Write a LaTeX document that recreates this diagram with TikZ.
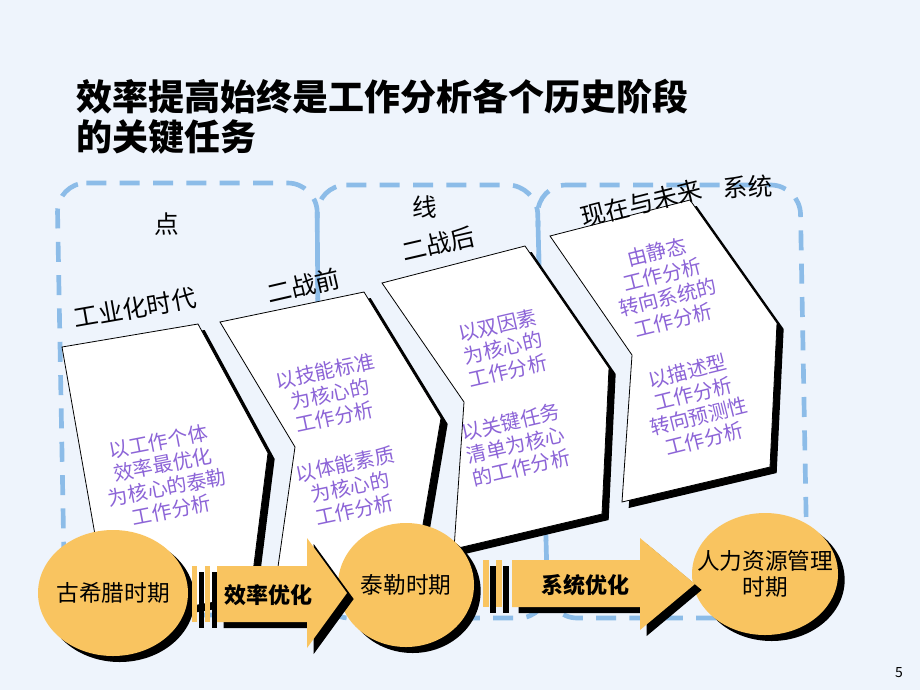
\documentclass[tikz,border=0pt]{standalone}
\usepackage{fontspec}
\setmainfont{Noto Sans CJK SC}
\usetikzlibrary{positioning}
\usetikzlibrary{shapes.geometric}
\usetikzlibrary{shadows}

\definecolor{pagebg}{RGB}{238,244,252}
\definecolor{zoneblue}{RGB}{140,188,232}
\definecolor{eraorange}{RGB}{249,196,96}
\definecolor{notepurple}{RGB}{140,100,215}

\begin{document}
\begin{tikzpicture}[ x                 = 0.75pt
                   , y                 = -0.75pt
                   , every node/.style = { inner sep = 0pt
                                         , align     = center
                                         }
                   ]

  %%
  %% Shape types
  %%
  \tikzset{ hardshadow/.style={drop shadow={shadow xshift=5pt, shadow yshift=-4.5pt, fill=black, opacity=1}}
          , stage/.style={draw=black, line width=0.6pt, fill=white, hardshadow}
          , era/.style={ellipse, fill=eraorange, hardshadow}
          , push/.style={fill=eraorange, hardshadow}
          , zone/.style={draw=zoneblue, line width=3.5pt, dash pattern=on 15pt off 10pt, rounded corners=22pt}
          }

  %%
  %% Text types
  %%
  \tikzset{ note/.style={text=notepurple, font=\fontsize{15}{17.5}\selectfont}
          , tag/.style={font=\fontsize{18.5}{22}\selectfont}
          , eraname/.style={font=\fontsize{17}{20}\selectfont}
          , pushname/.style={font=\fontsize{16.5}{20}\selectfont\bfseries}
          }

  \fill[pagebg] (0,0) rectangle (920,690);
  \useasboundingbox (0,0) rectangle (920,690);

  %%
  %% Dashed zones
  %%
  \draw[zone] (57,183) -- (317,183) -- (320,615) -- (65,615) -- cycle;
  \draw[zone] (317,185) -- (537,185) -- (548,618) -- (320,618) -- cycle;
  \draw[zone] (537,185) -- (800,185) -- (808,618) -- (548,618) -- cycle;

  %%
  %% Stages
  %%
  \draw[stage] (62,347) -- (198,324) -- (268,453) -- (250,596) -- (110,620) -- cycle;
  \draw[stage] (220,322) -- (364,292) -- (441,418) -- (417,560) -- (274,595) -- (295,447) -- cycle;
  \draw[stage] (382,283) -- (525,246) -- (609,368) -- (602,514) -- (454,549) -- (464,402) -- cycle;
  \draw[stage] (550,236) -- (690,200) -- (777,323) -- (770,467) -- (622,502) -- (632,355) -- cycle;

  %%
  %% Stage labels
  %%
  \node (dian) [tag]           at (167,224) {点};
  \node (gyh)  [tag, rotate=10] at (135,308) {工业化时代};
  \node (ezq)  [tag, rotate=13] at (303,286) {二战前};
  \node (xian) [tag]           at (425,207) {线};
  \node (ezh)  [tag, rotate=13] at (438,244) {二战后};
  \node (xzwl) [tag, rotate=14] at (641,203) {现在与未来};
  \node (xt)   [tag, rotate=3]  at (748,187) {系统};

  %%
  %% Stage notes
  %%
  \node (n1)  [note, rotate=11] at (165,476) {以工作个体\\效率最优化\\为核心的泰勒\\工作分析};
  \node (n2a) [note, rotate=12] at (330,394) {以技能标准\\为核心的\\工作分析};
  \node (n2b) [note, rotate=12] at (350,487) {以体能素质\\为核心的\\工作分析};
  \node (n3a) [note, rotate=13] at (503,348) {以双因素\\为核心的\\工作分析};
  \node (n3b) [note, rotate=13] at (516,445) {以关键任务\\清单为核心\\的工作分析};
  \node (n4a) [note, rotate=14] at (665,286) {由静态\\工作分析\\转向系统的\\工作分析};
  \node (n4b) [note, rotate=14] at (696,405) {以描述型\\工作分析\\转向预测性\\工作分析};

  %%
  %% Eras
  %%
  \node (gxl) [era, minimum width=112.5pt, minimum height=94.5pt] at (113,593) {};
  \node (tl)  [era, minimum width=102pt,   minimum height=93pt]   at (406,585) {};
  \node (hrm) [era, minimum width=109.5pt, minimum height=91.5pt] at (765,574) {};

  %%
  %% Block arrows between eras
  %%
  \fill[push] (192,566) rectangle (197,622);
  \fill[push] (205,566) rectangle (210,622);
  \fill[push] (217,566) -- (307,566) -- (307,538) -- (347,593)
              -- (307,648) -- (307,622) -- (217,622) -- cycle;

  \fill[push] (483,560) rectangle (489,607);
  \fill[push] (496,560) rectangle (502,607);
  \fill[push] (512,560) -- (640,560) -- (640,538) -- (695,584)
              -- (640,630) -- (640,607) -- (512,607) -- cycle;

  \node (gxlname) [eraname] at (gxl) {古希腊时期};
  \node (tlname)  [eraname] at (tl)  {泰勒时期};
  \node (hrmname) [eraname] at (hrm) {人力资源管理\\时期};

  \node (xlyh) [pushname] at (268,595) {效率优化};
  \node (xtyh) [pushname] at (585,585) {系统优化};

  %%
  %% Title and page number
  %%
  \node (title) [anchor=west, align=left, font=\fontsize{27}{30}\selectfont\bfseries]
        at (76,117) {效率提高始终是工作分析各个历史阶段\\的关键任务};
  \node (page) [font=\fontsize{10.5}{12}\selectfont] at (899,673) {5};

\end{tikzpicture}
\end{document}
